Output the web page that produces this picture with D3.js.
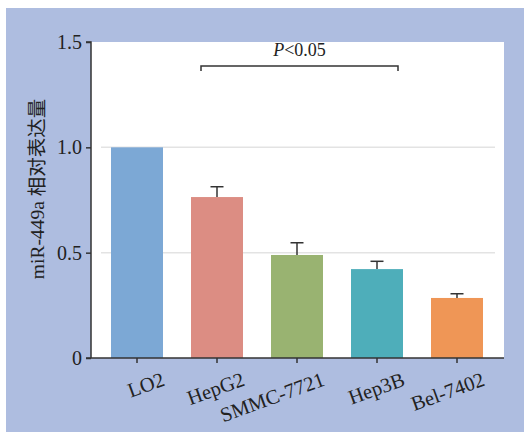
<!DOCTYPE html>
<html>
<head>
<meta charset="utf-8">
<script src="https://cdn.jsdelivr.net/npm/d3@7"></script>
<style>
  body { margin: 0; background: #fff; }
  .axis text { font-family: 'Liberation Serif', 'DejaVu Serif', serif; fill: #222; }
  .axis path, .axis line { stroke: #333; }
</style>
</head>
<body>
<div id="chart"></div>
<script>
const cellLines = ['LO2', 'HepG2', 'SMMC-7721', 'Hep3B', 'Bel-7402']
const means = [1.0, 0.764, 0.489, 0.422, 0.285]
const errors = [0, 0.049, 0.058, 0.037, 0.02]
const barColors = ['#7ca8d5', '#dc8d83', '#99b371', '#4eaeba', '#ef9656']
const yTicks = [0, 0.5, 1.0, 1.5]
const gridTicks = [0.5, 1.0]

const width = 524
const height = 432

const svg = d3
  .select('#chart')
  .append('svg')
  .attr('width', width)
  .attr('height', height)

// blue backdrop
svg
  .append('rect')
  .attr('x', 6)
  .attr('y', 8)
  .attr('width', width - 6)
  .attr('height', height - 8)
  .attr('fill', '#aebde0')

const plot = { left: 91, right: 504, top: 42, bottom: 358 }

// white plot panel
svg
  .append('rect')
  .attr('x', plot.left)
  .attr('y', plot.top)
  .attr('width', plot.right - plot.left)
  .attr('height', plot.bottom - plot.top)
  .attr('fill', '#fff')

const xPositionScale = d3
  .scaleBand()
  .domain(cellLines)
  .range([97, 497])
  .paddingInner(0.35)
  .paddingOuter(0.175)

const yPositionScale = d3
  .scaleLinear()
  .domain([0, 1.5])
  .range([plot.bottom, plot.top])

// gridlines
svg
  .selectAll('.grid')
  .data(gridTicks)
  .enter()
  .append('line')
  .attr('class', 'grid')
  .attr('x1', 101)
  .attr('x2', 495)
  .attr('y1', d => yPositionScale(d))
  .attr('y2', d => yPositionScale(d))
  .attr('stroke', '#e3e3e3')
  .attr('stroke-width', 1.5)

// bars
svg
  .selectAll('.bar')
  .data(cellLines)
  .enter()
  .append('rect')
  .attr('class', 'bar')
  .attr('x', d => xPositionScale(d))
  .attr('width', xPositionScale.bandwidth())
  .attr('y', (d, i) => yPositionScale(means[i]))
  .attr('height', (d, i) => yPositionScale(0) - yPositionScale(means[i]))
  .attr('fill', (d, i) => barColors[i])

// error bars (upper only)
const errTop = d => {
  let i = cellLines.indexOf(d)
  return yPositionScale(means[i] + errors[i])
}
const mid = d => xPositionScale(d) + xPositionScale.bandwidth() / 2

const errG = svg
  .selectAll('.err')
  .data(cellLines.filter((d, i) => errors[i] > 0))
  .enter()
  .append('g')
  .attr('class', 'err')

errG
  .append('line')
  .attr('x1', mid)
  .attr('x2', mid)
  .attr('y1', d => yPositionScale(means[cellLines.indexOf(d)]))
  .attr('y2', errTop)
  .attr('stroke', '#333')
  .attr('stroke-width', 1.5)

errG
  .append('line')
  .attr('x1', d => mid(d) - 6.5)
  .attr('x2', d => mid(d) + 6.5)
  .attr('y1', errTop)
  .attr('y2', errTop)
  .attr('stroke', '#333')
  .attr('stroke-width', 1.5)

// y axis
const yAxis = d3
  .axisLeft(yPositionScale)
  .tickValues(yTicks)
  .tickSize(5)
  .tickPadding(4)
  .tickFormat(d => (d === 0 ? '0' : d3.format('.1f')(d)))

svg
  .append('g')
  .attr('class', 'axis y-axis')
  .attr('transform', 'translate(' + plot.left + ',0)')
  .call(yAxis)
  .call(g => g.select('.domain').attr('d', `M-5,${plot.top}H0V${plot.bottom}`).attr('stroke-width', 1.5))
  .call(g => g.selectAll('.tick line').attr('stroke-width', 1.5))
  .selectAll('text')
  .attr('font-size', 20)

// x axis
const xAxis = d3.axisBottom(xPositionScale).tickSize(5).tickSizeOuter(0)

svg
  .append('g')
  .attr('class', 'axis x-axis')
  .attr('transform', 'translate(0,' + plot.bottom + ')')
  .call(xAxis)
  .call(g => g.select('.domain').attr('d', `M${plot.left - 5},0H${plot.right}`).attr('stroke-width', 1.5))
  .call(g => g.selectAll('.tick line').attr('stroke-width', 1.5))
  .selectAll('text')
  .attr('font-size', 20.5)
  .attr('text-anchor', 'end')
  .attr('dy', 0)
  .attr('y', 0)
  .attr('transform', 'translate(29,27) rotate(-20)')

// y label
svg
  .append('text')
  .attr('transform', 'translate(44,189) rotate(-90)')
  .attr('text-anchor', 'middle')
  .attr('font-size', 19.5)
  .attr('fill', '#222')
  .attr('font-family', "'Liberation Serif', 'Noto Sans CJK SC', serif")
  .text('miR-449a 相对表达量')

// significance bracket HepG2 .. Hep3B
const bx1 = xPositionScale('HepG2') + 10
const bx2 = xPositionScale('Hep3B') + xPositionScale.bandwidth() - 5
const by = 66
svg
  .append('path')
  .attr('d', `M${bx1},${by + 5}V${by}H${bx2}V${by + 5}`)
  .attr('fill', 'none')
  .attr('stroke', '#333')
  .attr('stroke-width', 1.5)

const pText = svg
  .append('text')
  .attr('x', (bx1 + bx2) / 2)
  .attr('y', 56)
  .attr('text-anchor', 'middle')
  .attr('font-size', 18)
  .attr('fill', '#222')
  .attr('font-family', "'Liberation Serif', serif")

pText.append('tspan').attr('font-style', 'italic').text('P')
pText.append('tspan').text('<0.05')
</script>
</body>
</html>
